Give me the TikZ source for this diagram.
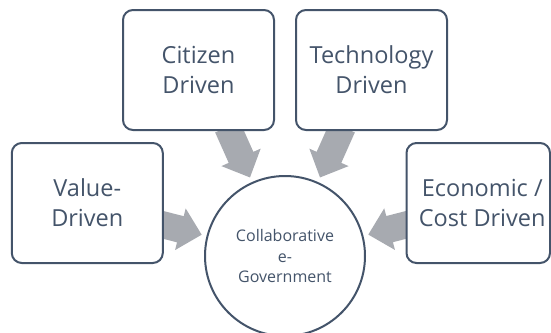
\documentclass[tikz,border=0pt]{standalone}
\usepackage{fontspec}
\setmainfont{Open Sans}
\usetikzlibrary{calc}
\definecolor{edge}{HTML}{44546A}
\definecolor{arrowgray}{HTML}{A7AAB0}
\pgfdeclarelayer{background}
\pgfsetlayers{background,main}
\newcommand\myblockarrow[2]{%
  \coordinate (bb) at ($(#2)!22pt!(#1)$);
  \fill[arrowgray] ($(#1)!13.5pt!90:(#2)$) -- ($(bb)!13.5pt!-90:(#1)$) -- ($(bb)!21.5pt!-90:(#1)$) -- (#2)
    -- ($(bb)!21.5pt!90:(#1)$) -- ($(bb)!13.5pt!90:(#1)$) -- ($(#1)!13.5pt!-90:(#2)$) -- cycle;}
\begin{document}
\begin{tikzpicture}[x=1pt,y=-1pt,
  box/.style={draw=edge, line width=2pt, rounded corners=10pt, fill=white, text=edge,
    align=center, font=\fontsize{23.5}{30}\selectfont, inner sep=0pt,
    minimum width=151pt, minimum height=120pt},
  hub/.style={circle, draw=edge, line width=2pt, fill=white, minimum size=160pt,
    inner sep=0pt, text=edge, align=center, font=\fontsize{16}{20.5}\selectfont}]
\useasboundingbox (0,0) rectangle (551,332);
\node[box] (citizen) at (198.5,70) {Citizen\\Driven};
\node[box] (tech) at (371.5,70) {Technology\\Driven};
\node[box] (value) at (87.3,203) {Value-\\Driven};
\node[box, minimum width=143.5pt] (econ) at (478.25,203) {\hspace*{8pt}Economic /\\\hspace*{8pt}Cost Driven};
\node[hub] (hub) at (285,256) {Collaborative\\e-\\Government};
\begin{pgfonlayer}{background}
  \coordinate (s1) at ($(citizen.south)+(29,-4)$);
  \coordinate (s2) at ($(tech.south)+(-29,-4)$);
  \coordinate (s3) at ($(value.east)+(-4,21)$);
  \coordinate (s4) at ($(econ.west)+(4,21)$);
  \coordinate (t1) at ($(hub.center)!86pt!(s1)$);
  \coordinate (t2) at ($(hub.center)!86pt!(s2)$);
  \coordinate (t3) at ($(hub.center)!86pt!(s3)$);
  \coordinate (t4) at ($(hub.center)!86pt!(s4)$);
  \myblockarrow{s1}{t1}
  \myblockarrow{s2}{t2}
  \myblockarrow{s3}{t3}
  \myblockarrow{s4}{t4}
\end{pgfonlayer}
\end{tikzpicture}
\end{document}
